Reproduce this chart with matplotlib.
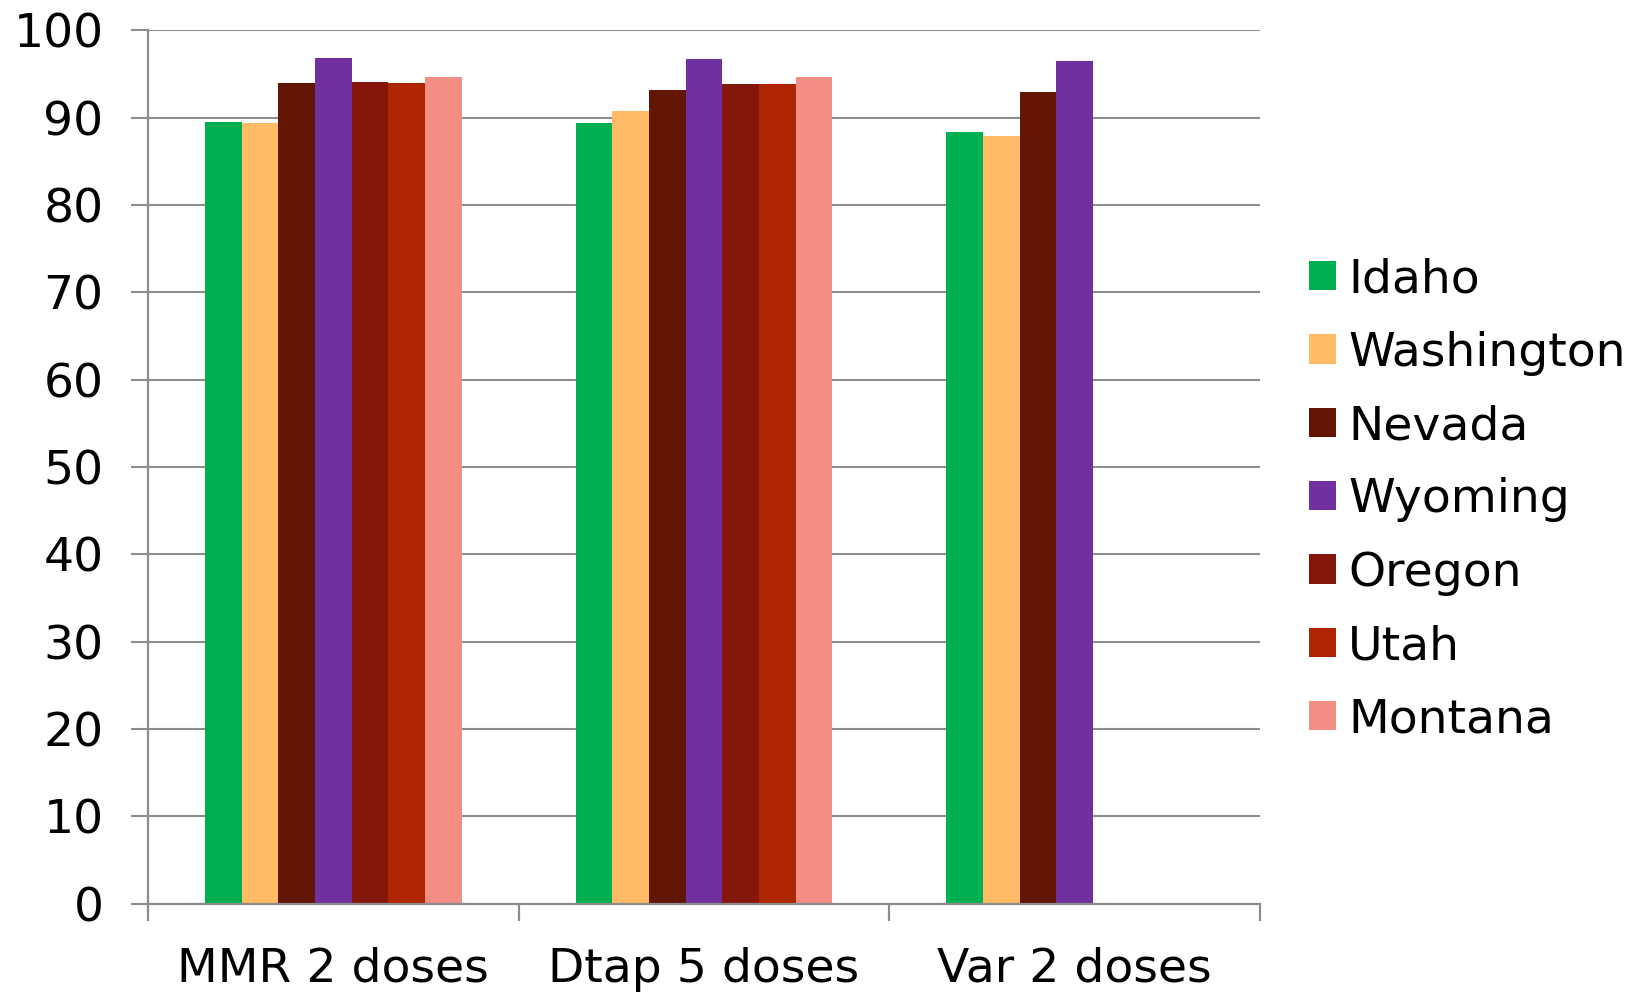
import numpy as np
import matplotlib
matplotlib.use("Agg")
import matplotlib.pyplot as plt

# data (percent vaccinated)
categories = ["MMR 2 doses", "Dtap 5 doses", "Var 2 doses"]
states = ["Idaho", "Washington", "Nevada", "Wyoming", "Oregon", "Utah", "Montana"]
idaho = [89.5, 89.4, 88.4]
washington = [89.4, 90.7, 87.9]
nevada = [94.0, 93.2, 92.9]
wyoming = [96.8, 96.7, 96.5]
oregon = [94.1, 93.9, np.nan]
utah = [94.0, 93.9, np.nan]
montana = [94.6, 94.6, np.nan]
yticks = list(range(0, 101, 10))

series = [idaho, washington, nevada, wyoming, oregon, utah, montana]
colors = ["#00B050", "#FFBB66", "#621502", "#7030A0", "#84160C", "#AE2502", "#F28E84"]

plt.rcParams["font.family"] = ["DejaVu Sans"]
grey = "#8c8c8c"
fs = 34

fig = plt.figure(figsize=(16.33, 9.93), dpi=100)
ax = fig.add_axes([0.0906, 0.0901, 0.6810, 0.8794])

x = np.arange(len(categories))
width = 0.099
n = len(series)
for i, (vals, col, name) in enumerate(zip(series, colors, states)):
    offs = (i - (n - 1) / 2) * width
    ax.bar(x + offs, vals, width, color=col, label=name, edgecolor="none", zorder=2)

ax.set_xlim(-0.5, len(categories) - 0.5)
ax.set_ylim(0, 100)
ax.set_yticks(yticks)
ax.set_xticks(x)
ax.set_xticklabels(categories)
ax.set_xticks(np.arange(-0.5, len(categories), 1.0), minor=True)

ax.yaxis.grid(True, color=grey, linewidth=1.5, zorder=0)
ax.set_axisbelow(True)
for s in ["top", "right"]:
    ax.spines[s].set_visible(False)
for s in ["left", "bottom"]:
    ax.spines[s].set_color(grey)
    ax.spines[s].set_linewidth(1.6)

ax.tick_params(axis="y", length=12, width=1.5, color=grey, pad=20, labelsize=fs)
ax.tick_params(axis="x", which="major", length=0, pad=31, labelsize=fs)
ax.tick_params(axis="x", which="minor", length=12, width=1.6, color=grey)

fig.legend(loc="center left", bbox_to_anchor=(1309 / 1633, 0.4965), frameon=False,
           fontsize=fs, handlelength=0.58, handleheight=0.58, handletextpad=0.25,
           labelspacing=0.6, borderpad=0, borderaxespad=0)

fig.savefig("out.png", dpi=100)
